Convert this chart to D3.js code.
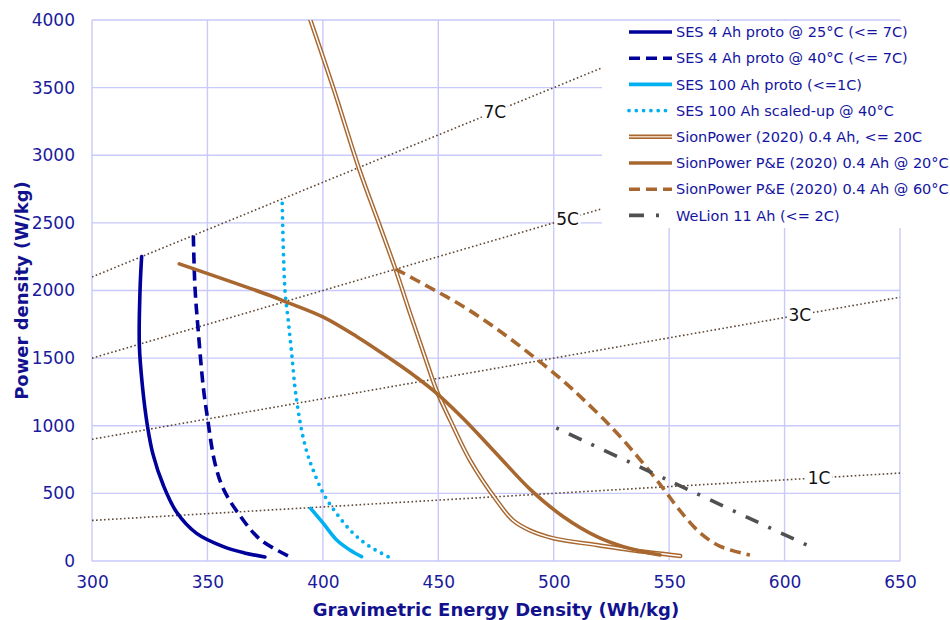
<!DOCTYPE html>
<meta charset="utf-8">
<script src="https://d3js.org/d3.v7.min.js"></script>
<style>
  body { margin: 0; background: #fff; }
  text { font-family: "DejaVu Sans", Verdana, sans-serif; }
</style>
<div id="my_dataviz"></div>
<script>

  // ticks
  var xTicks = [300, 350, 400, 450, 500, 550, 600, 650]
  var yTicks = [0, 500, 1000, 1500, 2000, 2500, 3000, 3500, 4000]

  // series, [energy Wh/kg, power W/kg]
  var ses4Ah25 = [[321.5, 2251], [320.8, 2000], [320.5, 1600], [321.8, 1300], [324.0, 1000], [326.4, 790],
    [330.9, 560], [336.7, 360], [345.3, 204], [356.9, 106], [366, 60], [374.9, 30]]
  var ses4Ah40 = [[343.9, 2406], [344.6, 2025], [346.0, 1705], [348.2, 1286], [350.0, 1060], [353.3, 720],
    [357.0, 530], [363.4, 352], [372.8, 160], [385.3, 35]]
  var ses100Ah = [[394.7, 389], [400.2, 278], [406.0, 155], [411.7, 81], [416.8, 32]]
  var ses100AhScaled = [[382.4, 2644], [383.6, 2000], [385.0, 1779], [386.5, 1533], [387.9, 1286], [389.3, 1114],
    [390.8, 967], [393.0, 810], [395.4, 690], [400.2, 500], [405.9, 352], [413.2, 204], [420.4, 106], [428.3, 32]]
  var sion2020 = [[393.8, 4040], [404.7, 3489], [415.5, 2910], [424.9, 2467], [431.4, 2160], [438.0, 1820],
    [444.0, 1520], [449.3, 1260], [455.2, 1040], [463.9, 740], [475.4, 445], [482.4, 300],
    [489.8, 225], [499.9, 168], [518.7, 118], [533.1, 81], [554.8, 37]]
  var sionPE20 = [[337.8, 2197], [377.1, 1963], [384.3, 1914], [400.2, 1803], [414.6, 1660], [430.5, 1480],
    [440.0, 1365], [449.3, 1240], [461.0, 1050], [475.4, 790], [489.8, 530], [504.2, 327], [518.7, 180],
    [530.2, 106], [546.1, 44]]
  var sionPE60 = [[431.4, 2160], [446.5, 2020], [461.0, 1880], [475.4, 1715], [489.8, 1530], [504.2, 1330],
    [512.8, 1195], [525.8, 975], [537.4, 750], [547.5, 535], [554.7, 372], [563.3, 210], [571.9, 110], [585.0, 44]]
  var welion = [[501.1, 984], [550.1, 593], [609.6, 118]]

  var seriesNames = [
    "SES 4 Ah proto @ 25°C (<= 7C)",
    "SES 4 Ah proto @ 40°C (<= 7C)",
    "SES 100 Ah proto (<=1C)",
    "SES 100 Ah scaled-up @ 40°C",
    "SionPower (2020) 0.4 Ah, <= 20C",
    "SionPower P&E (2020) 0.4 Ah @ 20°C",
    "SionPower P&E (2020) 0.4 Ah @ 60°C",
    "WeLion 11 Ah (<= 2C)"
  ]

  // C-rate guide lines, end points and label positions
  var cRateNames = ["1C", "3C", "5C", "7C"]
  var cRateLines = [
    [[300, 300], [650, 650]],
    [[300, 900], [650, 1950]],
    [[300, 1500], [650, 3250]],
    [[300, 2100], [650, 4550]]
  ]
  var cRateLabelPos = [[614.9, 615], [606.6, 1820], [506, 2530], [474.5, 3321]]

  var margin = { top: 20, right: 50, bottom: 59, left: 92 },
    width = 950 - margin.left - margin.right,
    height = 620 - margin.top - margin.bottom;

  var svg = d3.select("#my_dataviz")
    .append("svg")
    .attr("width", 950)
    .attr("height", 620)
    .append("g")
    .attr("transform", "translate(" + margin.left + "," + margin.top + ")");

  var x = d3.scaleLinear().domain([300, 650]).range([0, width])
  var y = d3.scaleLinear().domain([0, 4000]).range([height, 0])

  var grid = "#c9c9fb"
  var tickColor = "#1a1a9c"

  // grid
  svg.selectAll("vgrid").data(xTicks).enter().append("line")
    .attr("x1", function (d) { return x(d) }).attr("x2", function (d) { return x(d) })
    .attr("y1", 0).attr("y2", height)
    .attr("stroke", grid).attr("stroke-width", 1.4)
  svg.selectAll("hgrid").data(yTicks).enter().append("line")
    .attr("x1", 0).attr("x2", width)
    .attr("y1", function (d) { return y(d) }).attr("y2", function (d) { return y(d) })
    .attr("stroke", grid).attr("stroke-width", 1.4)

  // axes, only the labels are kept
  var xAxis = svg.append("g")
    .attr("transform", "translate(0," + height + ")")
    .call(d3.axisBottom(x).tickValues(xTicks).tickFormat(d3.format("d")).tickSize(0).tickPadding(15))
  var yAxis = svg.append("g")
    .call(d3.axisLeft(y).tickValues(yTicks).tickFormat(d3.format("d")).tickSize(0).tickPadding(17))
  xAxis.select(".domain").remove()
  yAxis.select(".domain").remove()
  svg.selectAll(".tick text")
    .style("font-family", "'DejaVu Sans', Verdana, sans-serif")
    .style("font-size", "17px")
    .attr("fill", tickColor)

  // titles
  svg.append("text")
    .attr("x", width / 2).attr("y", height + 55)
    .attr("text-anchor", "middle")
    .style("font-size", "18px").style("font-weight", "bold")
    .attr("fill", "#12128f")
    .text("Gravimetric Energy Density (Wh/kg)")
  svg.append("text")
    .attr("transform", "translate(" + (-64) + "," + (height / 2) + ") rotate(-90)")
    .attr("text-anchor", "middle")
    .style("font-size", "18px").style("font-weight", "bold")
    .attr("fill", "#12128f")
    .text("Power density (W/kg)")

  // clip to plot area
  svg.append("clipPath").attr("id", "plotclip")
    .append("rect").attr("x", 0).attr("y", 0).attr("width", width).attr("height", height)
  var plot = svg.append("g").attr("clip-path", "url(#plotclip)")

  var line = d3.line()
    .x(function (d) { return x(d[0]) })
    .y(function (d) { return y(d[1]) })
  var smooth = d3.line()
    .x(function (d) { return x(d[0]) })
    .y(function (d) { return y(d[1]) })
    .curve(d3.curveCatmullRom.alpha(0.5))

  // C-rate lines
  plot.selectAll("cLines").data(cRateLines).enter().append("path")
    .attr("d", line)
    .attr("fill", "none")
    .attr("stroke", "#5e4836")
    .attr("stroke-width", 1.6)
    .attr("stroke-dasharray", "1.6,2.4")

  var cLab = plot.selectAll("cLabels").data(cRateLabelPos).enter().append("g")
    .attr("transform", function (d) { return "translate(" + x(d[0]) + "," + y(d[1]) + ")" })
  cLab.append("rect")
    .attr("x", -13).attr("y", -9).attr("width", 26).attr("height", 18)
    .attr("fill", "#fff")
  cLab.append("text")
    .attr("text-anchor", "middle").attr("dy", "0.36em")
    .style("font-size", "17px").attr("fill", "#111")
    .text(function (d, i) { return cRateNames[i] })

  // series styles
  var navy = "#00009a", sky = "#00b0f0", brown = "#a8672f", grey = "#505050"
  var styles = [
    { data: ses4Ah25, color: navy, w: 3.6, dash: null, cap: "round" },
    { data: ses4Ah40, color: navy, w: 3.6, dash: "11,6", cap: "butt" },
    { data: ses100Ah, color: sky, w: 3.6, dash: null, cap: "round" },
    { data: ses100AhScaled, color: sky, w: 3.8, dash: "0,7.3", cap: "round" },
    { data: sion2020, color: brown, w: 4.4, dash: null, cap: "round", dbl: true },
    { data: sionPE20, color: brown, w: 3.6, dash: null, cap: "round" },
    { data: sionPE60, color: brown, w: 3.6, dash: "11,6", cap: "butt" },
    { data: welion, color: grey, w: 3.6, dash: "3,11,14,11", cap: "butt", legDash: "15,12,3,20" }
  ]

  styles.forEach(function (s) {
    plot.append("path")
      .datum(s.data)
      .attr("d", smooth)
      .attr("fill", "none")
      .attr("stroke", s.color)
      .attr("stroke-width", s.w)
      .attr("stroke-linecap", s.cap)
      .attr("stroke-linejoin", "round")
      .attr("stroke-dasharray", s.dash)
    if (s.dbl) {
      plot.append("path")
        .datum(s.data)
        .attr("d", smooth)
        .attr("fill", "none")
        .attr("stroke", "#fff")
        .attr("stroke-width", 1.5)
        .attr("stroke-linecap", "round")
    }
  })

  // legend on white box, top right
  var legend = svg.append("g").attr("transform", "translate(" + (602 - margin.left) + "," + (21 - margin.top) + ")")
  legend.append("rect")
    .attr("x", 0).attr("y", 0).attr("width", 348).attr("height", 207)
    .attr("fill", "#fff")
  var rows = legend.selectAll("rows").data(styles).enter().append("g")
    .attr("transform", function (d, i) { return "translate(0," + (11 + i * 26.2) + ")" })
  rows.append("line")
    .attr("x1", 27).attr("x2", 70).attr("y1", 0).attr("y2", 0)
    .attr("stroke", function (d) { return d.color })
    .attr("stroke-width", function (d) { return d.w })
    .attr("stroke-linecap", function (d) { return d.dash ? d.cap : "butt" })
    .attr("stroke-dasharray", function (d) { return d.legDash || d.dash })
  rows.filter(function (d) { return d.dbl }).append("line")
    .attr("x1", 27).attr("x2", 70).attr("y1", 0).attr("y2", 0)
    .attr("stroke", "#ecd3ba").attr("stroke-width", 1.5)
  rows.append("text")
    .attr("x", 74).attr("dy", "0.36em")
    .style("font-size", "14.5px")
    .attr("fill", "#1414a0")
    .text(function (d, i) { return seriesNames[i] })

</script>
